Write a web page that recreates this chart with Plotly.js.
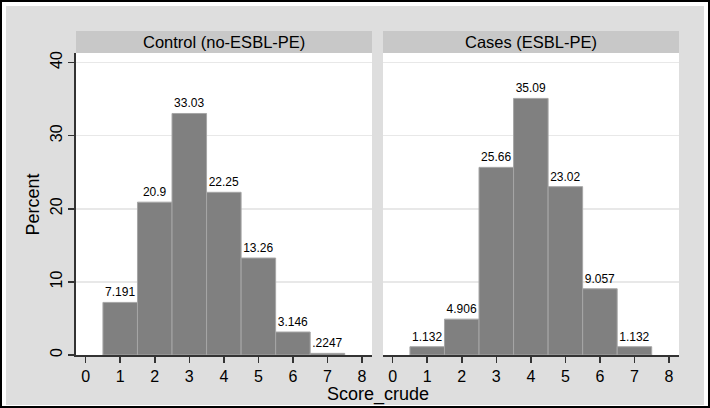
<!DOCTYPE html>
<html>
<head>
<meta charset="utf-8">
<script src="https://cdn.plot.ly/plotly-3.0.1.min.js"></script>
<style>
  html, body { margin: 0; padding: 0; background: #ffffff; }
  #frame {
    box-sizing: border-box;
    width: 710px;
    height: 408px;
    border: 2px solid #000000;
    padding: 4px 4px 1px 4px;
    background: #ffffff;
  }
  #plot { width: 698px; height: 399px; }
</style>
</head>
<body>
<div id="frame"><div id="plot"></div></div>
<script>
const scores = [1, 2, 3, 4, 5, 6, 7];
const controlPercent = [7.191, 20.9, 33.03, 22.25, 13.26, 3.146, 0.2247];
const controlLabels = ['7.191', '20.9', '33.03', '22.25', '13.26', '3.146', '.2247'];
const casePercent = [1.132, 4.906, 25.66, 35.09, 23.02, 9.057, 1.132];
const caseLabels = ['1.132', '4.906', '25.66', '35.09', '23.02', '9.057', '1.132'];
const panelTitles = ['Control (no-ESBL-PE)', 'Cases (ESBL-PE)'];
const xTicks = [0, 1, 2, 3, 4, 5, 6, 7, 8];
const yTicks = [0, 10, 20, 30, 40];

const fontFamily = 'Liberation Sans, Arial, Helvetica, sans-serif';
const stripHeight = 22 / 302;

function barTrace(values, labels, xaxis) {
  return {
    type: 'bar',
    x: scores,
    y: values,
    text: labels,
    textposition: 'outside',
    cliponaxis: false,
    textfont: { family: fontFamily, size: 12, color: '#000000' },
    width: 1,
    marker: { color: '#808080', line: { color: '#a6a6a6', width: 1 } },
    xaxis,
    yaxis: xaxis === 'x' ? 'y' : 'y2',
    hoverinfo: 'skip',
  };
}

function xAxis(domain) {
  return {
    domain,
    range: [-0.28, 8.29],
    tickvals: xTicks,
    ticktext: xTicks.map(String),
    ticks: 'outside',
    ticklen: 6,
    tickwidth: 1.5,
    tickcolor: '#333333',
    showline: true,
    linecolor: '#333333',
    linewidth: 2,
    showgrid: false,
    zeroline: false,
    tickfont: { family: fontFamily, size: 16, color: '#000000' },
    fixedrange: true,
  };
}

function yAxis(anchor, visible) {
  return {
    anchor,
    domain: [0, 1],
    range: [0, 41.3],
    tickvals: yTicks,
    ticktext: yTicks.map(String),
    tickangle: -90,
    ticks: visible ? 'outside' : '',
    ticklen: 6,
    tickwidth: 1.5,
    tickcolor: '#333333',
    showticklabels: visible,
    showline: visible,
    linecolor: '#333333',
    linewidth: 2,
    showgrid: true,
    gridcolor: '#e8e8e8',
    gridwidth: 1.5,
    zeroline: false,
    tickfont: { family: fontFamily, size: 16, color: '#000000' },
    fixedrange: true,
  };
}

const leftDomain = [0, 296 / 603];
const rightDomain = [307 / 603, 1];

const layout = {
  width: 698,
  height: 399,
  paper_bgcolor: '#dedede',
  plot_bgcolor: '#ffffff',
  margin: { l: 70, r: 25, t: 47, b: 50 },
  showlegend: false,
  bargap: 0,
  xaxis: xAxis(leftDomain),
  xaxis2: xAxis(rightDomain),
  yaxis: yAxis('x', true),
  yaxis2: Object.assign(yAxis('x2', false), { matches: 'y' }),
  shapes: [leftDomain, rightDomain].map((d) => ({
    type: 'rect',
    xref: 'paper',
    yref: 'paper',
    x0: d[0],
    x1: d[1],
    y0: 1,
    y1: 1 + stripHeight,
    fillcolor: '#c8c8c8',
    line: { width: 0 },
    layer: 'below',
  })),
  annotations: [
    ...[leftDomain, rightDomain].map((d, i) => ({
      xref: 'paper',
      yref: 'paper',
      x: (d[0] + d[1]) / 2,
      y: 1 + stripHeight / 2,
      text: panelTitles[i],
      showarrow: false,
      xanchor: 'center',
      yanchor: 'middle',
      font: { family: fontFamily, size: 16.5, color: '#000000' },
    })),
    {
      xref: 'paper',
      yref: 'paper',
      x: 0.5,
      y: -0.088,
      yanchor: 'top',
      text: 'Score_crude',
      showarrow: false,
      font: { family: fontFamily, size: 18, color: '#000000' },
    },
    {
      xref: 'paper',
      yref: 'paper',
      x: -0.0705,
      y: 0.5,
      xanchor: 'center',
      yanchor: 'middle',
      textangle: -90,
      text: 'Percent',
      showarrow: false,
      font: { family: fontFamily, size: 18, color: '#000000' },
    },
  ],
};

Plotly.newPlot('plot', [
  barTrace(controlPercent, controlLabels, 'x'),
  barTrace(casePercent, caseLabels, 'x2'),
], layout, { displayModeBar: false, staticPlot: true });
</script>
</body>
</html>
